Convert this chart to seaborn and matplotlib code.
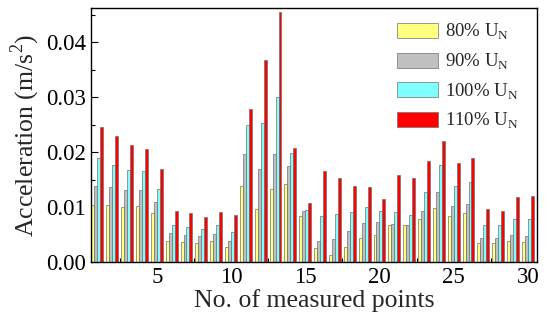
import numpy as np
import pandas as pd
import matplotlib
matplotlib.use("Agg")
import matplotlib.pyplot as plt
import seaborn as sns
from matplotlib.ticker import MultipleLocator, FixedLocator

# measured points 1..30
points = list(range(1, 31))

# acceleration (m/s^2)
u80 = [0.0103, 0.0104, 0.0100, 0.0102, 0.0089, 0.0038, 0.0036, 0.0035, 0.0038, 0.0027,
       0.0139, 0.0096, 0.0132, 0.0141, 0.0084, 0.0025, 0.0013, 0.0028, 0.0044, 0.0049,
       0.0067, 0.0067, 0.0079, 0.0099, 0.0084, 0.0089, 0.0035, 0.0035, 0.0039, 0.0037]
u90 = [0.0138, 0.0136, 0.0131, 0.0131, 0.0109, 0.0052, 0.0049, 0.0047, 0.0050, 0.0039,
       0.0197, 0.0170, 0.0196, 0.0175, 0.0093, 0.0039, 0.0042, 0.0057, 0.0071, 0.0073,
       0.0069, 0.0067, 0.0093, 0.0127, 0.0101, 0.0106, 0.0043, 0.0044, 0.0049, 0.0048]
u100 = [0.0189, 0.0176, 0.0168, 0.0165, 0.0133, 0.0067, 0.0063, 0.0060, 0.0067, 0.0055,
        0.0249, 0.0253, 0.0301, 0.0198, 0.0095, 0.0083, 0.0087, 0.0091, 0.0100, 0.0093,
        0.0091, 0.0086, 0.0128, 0.0176, 0.0138, 0.0145, 0.0067, 0.0067, 0.0078, 0.0078]
u110 = [0.0245, 0.0229, 0.0213, 0.0206, 0.0170, 0.0092, 0.0089, 0.0081, 0.0091, 0.0086,
        0.0279, 0.0367, 0.0455, 0.0207, 0.0107, 0.0165, 0.0152, 0.0138, 0.0136, 0.0115,
        0.0159, 0.0153, 0.0184, 0.0221, 0.0180, 0.0190, 0.0096, 0.0093, 0.0118, 0.0120]

series_labels = ["80% U$_\\mathregular{N}$", "90% U$_\\mathregular{N}$",
                 "100% U$_\\mathregular{N}$", "110% U$_\\mathregular{N}$"]
colors = ["#FFFF80", "#C0C0C0", "#80FFFF", "#FF0000"]

df = pd.DataFrame({
    "point": points * 4,
    "value": u80 + u90 + u100 + u110,
    "level": sum([[lab] * len(points) for lab in series_labels], []),
})

sns.set_style("ticks")
plt.rcParams["font.family"] = ["Liberation Serif", "DejaVu Serif"]
plt.rcParams["mathtext.fontset"] = "custom"
plt.rcParams["mathtext.rm"] = "Liberation Serif"

fig, ax = plt.subplots(figsize=(5.5, 3.23), dpi=100)
fig.subplots_adjust(left=0.165, right=0.976, bottom=0.189, top=0.975)

sns.barplot(data=df, x="point", y="value", hue="level", hue_order=series_labels,
            palette=colors, saturation=1, width=0.8, gap=0,
            edgecolor="#707070", linewidth=0.5, errorbar=None, ax=ax)

ax.set_xlim(-0.45, 29.6)
ax.set_ylim(0, 0.0462)

# categorical positions are 0-based
ax.xaxis.set_major_locator(FixedLocator([p - 1 for p in points if p % 5 == 0]))
ax.set_xticklabels([str(p) for p in points if p % 5 == 0])
ax.xaxis.set_minor_locator(FixedLocator([p - 1 + 0.5 for p in points if p % 5 == 2]))
ax.yaxis.set_major_locator(MultipleLocator(0.01))
ax.yaxis.set_minor_locator(MultipleLocator(0.005))
ax.yaxis.set_major_formatter(matplotlib.ticker.FormatStrFormatter("%.2f"))

ax.tick_params(which="both", direction="in", colors="black", labelsize=16.5)
ax.tick_params(which="major", length=5, width=0.8)
ax.tick_params(which="minor", length=3, width=0.8)

for sp in ax.spines.values():
    sp.set_visible(True)
    sp.set_linewidth(1.0)
    sp.set_color("black")

ax.set_xlabel("No. of measured points", fontsize=18.5, labelpad=1)
ax.set_ylabel("Acceleration (m/s$^\\mathregular{2}$)", fontsize=18.5, labelpad=3)

ax.legend(loc="upper right", bbox_to_anchor=(0.985, 0.99), frameon=False,
          fontsize=13.5, handlelength=2.2, handleheight=0.85, labelspacing=0.5,
          handletextpad=0.4, borderaxespad=0.2)

fig.savefig("out.png", dpi=100)
